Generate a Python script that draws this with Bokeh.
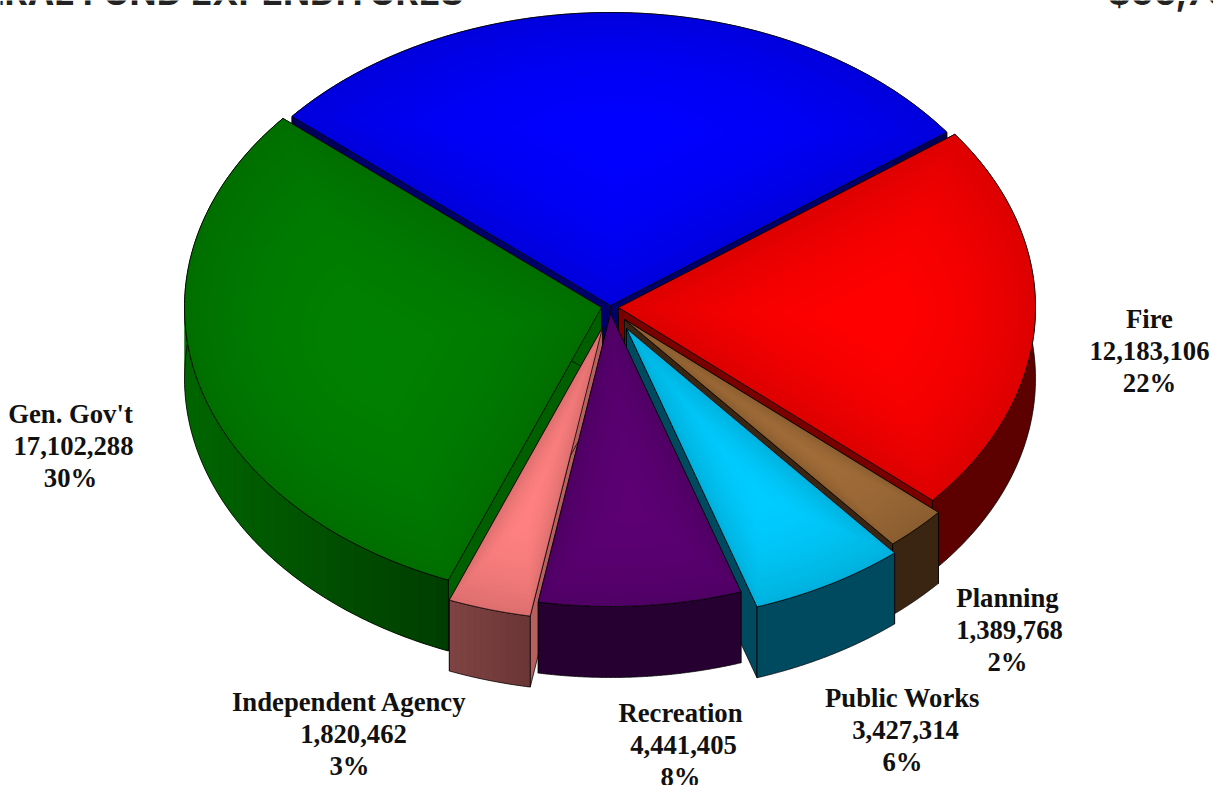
import math
from bokeh.plotting import figure
from bokeh.models import Range1d
from bokeh.core.properties import value
from bokeh.embed import file_html
from bokeh.resources import INLINE

# ---- data ----
categories = ["Police", "Fire", "Planning", "Public Works", "Recreation", "Independent Agency", "Gen. Gov't"]
amounts = [16300000, 12183106, 1389768, 3427314, 4441405, 1820462, 17102288]
amount_labels = ["", "12,183,106", "1,389,768", "3,427,314", "4,441,405", "1,820,462", "17,102,288"]
percent_labels = ["", "22%", "2%", "6%", "8%", "3%", "30%"]
top_colors = ["#0000ff", "#ff0000", "#a06c38", "#00ccff", "#5c0074", "#ff8080", "#008000"]
wall_left = ["#00005a", "#5c0000", "#3a2512", "#004a60", "#250030", "#804444", "#006600"]
wall_right = ["#00005a", "#5c0000", "#3a2512", "#004a60", "#250030", "#6a3535", "#003c00"]
face_colors = ["#00006a", "#7a0000", "#3a2512", "#004a60", "#250030", "#b86060", "#006000"]
header_left = "GENERAL FUND EXPENDITURES"
header_right = "$56,70"

# ---- layout ----
W, H = 1213, 785
RX, RY, DEPTH = 417, 293, 71
START_DEG = 139.8
apex = {"Police": (610, 305), "Fire": (618, 307), "Planning": (624, 319), "Public Works": (626, 328),
        "Recreation": (610, 313), "Independent Agency": (602, 327), "Gen. Gov't": (601, 307)}
draw_order = ["Police", "Gen. Gov't", "Fire", "Planning", "Public Works", "Independent Agency", "Recreation"]
label_pos = {"Fire": (1149, 318), "Planning": (1007, 597), "Public Works": (902, 697),
             "Recreation": (680, 712), "Independent Agency": (349, 701), "Gen. Gov't": (70, 413)}
amount_nudge = {"Fire": 0, "Planning": 2, "Public Works": 3, "Recreation": 3, "Independent Agency": 4, "Gen. Gov't": 3}
LINE_STEP = 32.2
LABEL_PX = 26.7
SHADE = 0.13
RINGS = 24


def rgb(h):
    return [int(h[i:i + 2], 16) for i in (1, 3, 5)]


def hexof(c):
    return "#%02x%02x%02x" % tuple(max(0, min(255, int(round(v)))) for v in c)


def centroid(pts):
    a = cx = cy = 0.0
    for i in range(len(pts)):
        x0, y0 = pts[i - 1]
        x1, y1 = pts[i]
        c = x0 * y1 - x1 * y0
        a += c
        cx += (x0 + x1) * c
        cy += (y0 + y1) * c
    return cx / (3 * a), cy / (3 * a)


total = sum(amounts)
angles = {}
cum = 0.0
for name, v in zip(categories, amounts):
    a0 = START_DEG - cum / total * 360
    cum += v
    angles[name] = (a0, START_DEG - cum / total * 360)

src = dict(xs=[], ys=[], fill=[], fa=[], line=[], la=[], lw=[])


def add(xs, ys, fill=None, line=None):
    src["xs"].append(xs)
    src["ys"].append(ys)
    src["fill"].append(fill or "#000000")
    src["fa"].append(1 if fill else 0)
    src["line"].append(line or "#000000")
    src["la"].append(0.85 if line else 0)
    src["lw"].append(0.9 if line else 0)


for name in draw_order:
    i = categories.index(name)
    ax, ay = apex[name]
    a0, a1 = angles[name]
    n = 160
    arc = []
    for k in range(n + 1):
        th = math.radians(a0 + (a1 - a0) * k / n)
        arc.append((ax + RX * math.cos(th), ay - RY * math.sin(th)))
    lower = [(x, y + DEPTH) for x, y in arc]

    # radial cut faces
    for corner in (arc[0], arc[-1]):
        add([ax, corner[0], corner[0], ax],
            [ay, corner[1], corner[1] + DEPTH, ay + DEPTH], face_colors[i], "#000000")

    # outer wall: a base fill, then chunks shaded by position
    xmin = min(p[0] for p in arc)
    xmax = max(p[0] for p in arc)
    cl, cr = rgb(wall_left[i]), rgb(wall_right[i])
    wall_xs = [p[0] for p in arc] + [p[0] for p in reversed(lower)]
    wall_ys = [p[1] for p in arc] + [p[1] for p in reversed(lower)]
    add(wall_xs, wall_ys, hexof([(cl[j] + cr[j]) / 2 for j in range(3)]))
    if wall_left[i] != wall_right[i]:
        chunks = max(4, int((xmax - xmin) / 6))
        for c in range(chunks):
            k0 = c * n // chunks
            k1 = (c + 1) * n // chunks
            t = ((arc[k0][0] + arc[k1][0]) / 2 - xmin) / (xmax - xmin)
            col = hexof([cl[j] + (cr[j] - cl[j]) * t for j in range(3)])
            idx = list(range(k0, k1 + 1))
            add([arc[q][0] for q in idx] + [lower[q][0] for q in reversed(idx)],
                [arc[q][1] for q in idx] + [lower[q][1] for q in reversed(idx)], col)
    add(wall_xs, wall_ys, None, "#000000")

    # top: nested copies about the centroid give the soft shading
    poly = [(ax, ay)] + arc
    cx, cy = centroid(poly)
    base = rgb(top_colors[i])
    for r in range(RINGS):
        s = 1 - r / RINGS
        f = 1 - SHADE * s * s
        col = hexof([v * f for v in base])
        add([cx + (x - cx) * s for x, y in poly], [cy + (y - cy) * s for x, y in poly], col)
    add([x for x, y in poly], [y for x, y in poly], None, "#000000")

p = figure(width=W, height=H, x_range=Range1d(0, W), y_range=Range1d(H, 0),
           x_axis_type=None, y_axis_type=None, toolbar_location=None,
           output_backend="svg", min_border=0, outline_line_color=None,
           background_fill_color="white", border_fill_color="white")
p.grid.visible = False

p.patches("xs", "ys", source=src, fill_color="fill", fill_alpha="fa",
          line_color="line", line_alpha="la", line_width="lw")

# slice labels
tx, ty, tt = [], [], []
for name in categories:
    if name not in label_pos:
        continue
    i = categories.index(name)
    lx, ly = label_pos[name]
    for k, s in enumerate([name, amount_labels[i], percent_labels[i]]):
        tx.append(lx + (amount_nudge[name] if k == 1 else 0))
        ty.append(ly + k * LINE_STEP)
        tt.append(s)
p.text(tx, ty, text=tt, text_font=value("Liberation Serif"), text_font_style="bold",
       text_font_size=f"{LABEL_PX}px", text_align="center", text_baseline="middle", text_color="#111111")

# header, cut by the top of the picture
p.text([463], [-8], text=[header_left], text_font=value("Inter"), text_font_style="bold",
       text_font_size="35.5px", text_align="right", text_baseline="alphabetic", text_color="#222222")
p.text([1107], [-8], text=[header_right], text_font=value("Inter"), text_font_style="bold",
       text_font_size="35.5px", text_align="left", text_baseline="alphabetic", text_color="#222222")

open("out.html", "w").write(file_html(p, INLINE))
